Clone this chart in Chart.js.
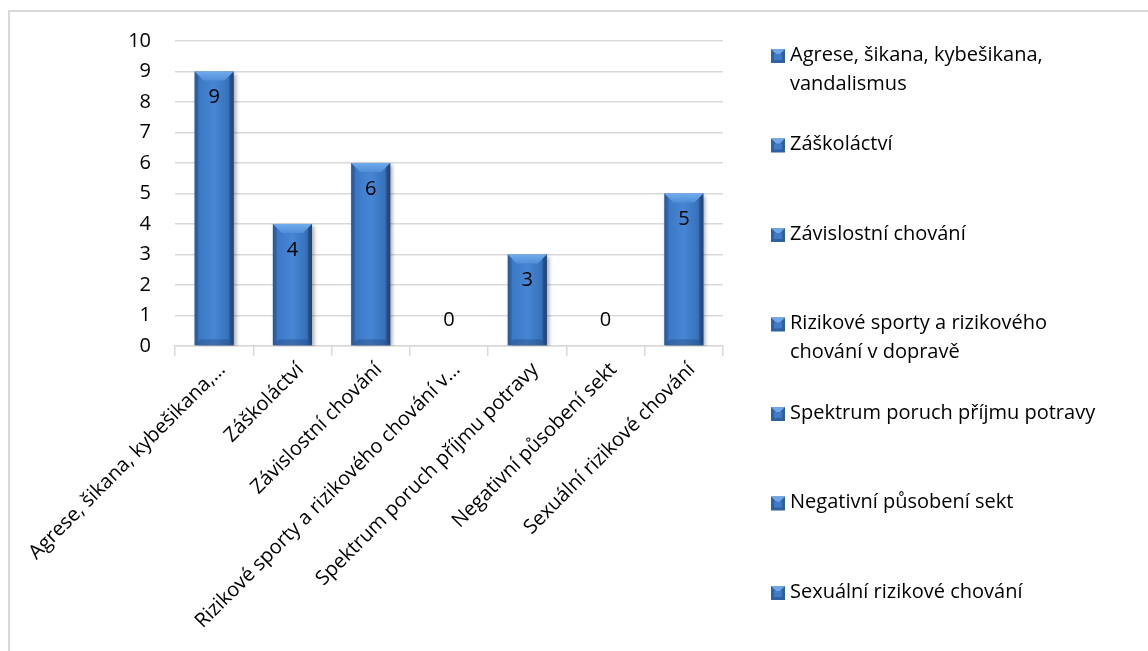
<!DOCTYPE html>
<html>
<head>
<meta charset="utf-8">
<script src="https://cdn.jsdelivr.net/npm/chart.js@4.4.1/dist/chart.umd.min.js"></script>
<style>
  body { margin: 0; background: #fff; }
  #wrap { position: relative; width: 1148px; height: 651px; }
</style>
</head>
<body>
<div id="wrap"><canvas id="chart-bars"></canvas></div>
<script>
// data
const categories = [
  "Agrese, šikana, kybešikana, vandalismus",
  "Záškoláctví",
  "Závislostní chování",
  "Rizikové sporty a rizikového chování v dopravě",
  "Spektrum poruch příjmu potravy",
  "Negativní působení sekt",
  "Sexuální rizikové chování"
];
// axis labels as Excel shortened them
const tickLabels = [
  "Agrese, šikana, kybešikana,…",
  "Záškoláctví",
  "Závislostní chování",
  "Rizikové sporty a rizikového chování v…",
  "Spektrum poruch příjmu potravy",
  "Negativní působení sekt",
  "Sexuální rizikové chování"
];
const values = [9, 4, 6, 0, 3, 0, 5];

const FONT = "'Open Sans'";
const FSIZE = 20;

function barFill(context) {
  const chart = context.chart;
  const xs = chart.scales.x;
  if (!xs || !chart.chartArea) return "#3a75c0";
  const cx = xs.getPixelForValue(context.dataIndex);
  const w = xs.width / categories.length * 0.5;
  const g = chart.ctx.createLinearGradient(cx - w / 2, 0, cx + w / 2, 0);
  g.addColorStop(0, "#2d5e9f");
  g.addColorStop(0.12, "#3c79c6");
  g.addColorStop(0.5, "#4686d4");
  g.addColorStop(0.85, "#3772bc");
  g.addColorStop(1, "#234f89");
  return g;
}

// chart frame (left + top light gray lines)
const framePlugin = {
  id: "frame",
  beforeDraw(chart) {
    const ctx = chart.ctx;
    ctx.save();
    ctx.strokeStyle = "#d9d9d9";
    ctx.lineWidth = 2;
    ctx.beginPath();
    ctx.moveTo(9, chart.height);
    ctx.lineTo(9, 11);
    ctx.lineTo(chart.width, 11);
    ctx.stroke();
    ctx.restore();
  }
};

// soft drop shadow + bevel on bars
const bevelPlugin = {
  id: "bevel",
  beforeDatasetDraw(chart) {
    const ctx = chart.ctx;
    ctx.save();
    ctx.shadowColor = "rgba(0,0,0,0.35)";
    ctx.shadowBlur = 4;
    ctx.shadowOffsetX = 2;
    ctx.shadowOffsetY = 2;
  },
  afterDatasetDraw(chart) {
    const ctx = chart.ctx;
    ctx.restore();
    const meta = chart.getDatasetMeta(0);
    meta.data.forEach((el, i) => {
      if (!values[i]) return;
      const l = el.x - el.width / 2, r = el.x + el.width / 2;
      const t = el.y, b = el.base;
      const bv = 9;
      ctx.save();
      // top bevel
      const gt = ctx.createLinearGradient(0, t, 0, t + bv);
      gt.addColorStop(0, "#70abec");
      gt.addColorStop(1, "#508ed8");
      ctx.fillStyle = gt;
      ctx.beginPath();
      ctx.moveTo(l, t); ctx.lineTo(r, t); ctx.lineTo(r - bv, t + bv); ctx.lineTo(l + bv, t + bv);
      ctx.closePath(); ctx.fill();
      // right side darker strip
      ctx.fillStyle = "rgba(20,45,90,0.35)";
      ctx.beginPath();
      ctx.moveTo(r, t); ctx.lineTo(r, b); ctx.lineTo(r - 4, b - 4); ctx.lineTo(r - 4, t + 4);
      ctx.closePath(); ctx.fill();
      // left side
      ctx.fillStyle = "rgba(30,60,110,0.22)";
      ctx.beginPath();
      ctx.moveTo(l, t); ctx.lineTo(l + 4, t + 4); ctx.lineTo(l + 4, b - 4); ctx.lineTo(l, b);
      ctx.closePath(); ctx.fill();
      // bottom bevel
      ctx.fillStyle = "rgba(25,55,100,0.3)";
      ctx.beginPath();
      ctx.moveTo(l, b); ctx.lineTo(r, b); ctx.lineTo(r - 6, b - 6); ctx.lineTo(l + 6, b - 6);
      ctx.closePath(); ctx.fill();
      ctx.restore();
    });
  }
};

// value labels, inside end of each bar
const valueLabels = {
  id: "valueLabels",
  afterDatasetsDraw(chart) {
    const ctx = chart.ctx;
    const meta = chart.getDatasetMeta(0);
    ctx.save();
    ctx.font = FSIZE + "px " + FONT;
    ctx.fillStyle = "#000";
    ctx.textAlign = "center";
    ctx.textBaseline = "middle";
    meta.data.forEach((el, i) => {
      const y = values[i] > 0 ? el.y + 26 : el.base - 26;
      ctx.fillText(String(values[i]), el.x, y);
    });
    ctx.restore();
  }
};

// legend on the right, one entry per category, wrapped like Excel
const sideLegend = {
  id: "sideLegend",
  afterDraw(chart) {
    const ctx = chart.ctx;
    const labels = chart.data.labels;
    const x0 = 771, tx = 790, maxW = 322, lineH = 29;
    const top = 55, step = 89.5;
    ctx.save();
    ctx.font = FSIZE + "px " + FONT;
    ctx.textBaseline = "middle";
    labels.forEach((lab, i) => {
      const y = top + i * step;
      const words = lab.split(" ");
      const lines = [];
      let cur = "";
      words.forEach(w => {
        const test = cur ? cur + " " + w : w;
        if (ctx.measureText(test).width > maxW && cur) { lines.push(cur); cur = w; }
        else cur = test;
      });
      lines.push(cur);
      // swatch
      const s = 14, sy = y - s / 2 + 1;
      ctx.fillStyle = "#2f60a2";
      ctx.fillRect(x0, sy, s, s);
      ctx.fillStyle = "#6ea6e6";
      ctx.beginPath();
      ctx.moveTo(x0, sy); ctx.lineTo(x0 + s, sy); ctx.lineTo(x0 + s / 2, sy + s / 2);
      ctx.closePath(); ctx.fill();
      ctx.fillStyle = "#3f7cc8";
      ctx.fillRect(x0 + 3, sy + 5, s - 6, s - 8);
      ctx.fillStyle = "#000";
      lines.forEach((ln, k) => ctx.fillText(ln, tx, y + k * lineH));
    });
    ctx.restore();
  }
};

const ctx = document.getElementById("chart-bars").getContext("2d");
new Chart(ctx, {
  type: "bar",
  data: {
    labels: categories,
    datasets: [{
      label: "Počet",
      data: values,
      backgroundColor: barFill,
      borderWidth: 0,
      barPercentage: 0.5,
      categoryPercentage: 1
    }]
  },
  options: {
    responsive: true,
    maintainAspectRatio: false,
    animation: false,
    layout: { padding: { top: 41, right: 425, left: 0, bottom: 0 } },
    plugins: {
      legend: { display: false },
      tooltip: { enabled: false }
    },
    scales: {
      y: {
        min: 0,
        max: 10,
        ticks: {
          stepSize: 1,
          padding: 24,
          color: "#000",
          font: { family: FONT, size: FSIZE }
        },
        grid: { color: "#d9d9d9", lineWidth: 1.5, drawTicks: false },
        border: { display: false },
        afterFit(scale) { scale.width = 175; }
      },
      x: {
        offset: true,
        ticks: {
          autoSkip: false,
          maxRotation: 45,
          minRotation: 45,
          padding: 2,
          labelOffset: 8,
          color: "#000",
          font: { family: FONT, size: FSIZE },
          callback: (v, i) => tickLabels[i]
        },
        grid: { display: true, offset: true, drawOnChartArea: false, tickLength: 10, color: "#d9d9d9", lineWidth: 1.5 },
        border: { display: true, color: "#d9d9d9", width: 1.5 },
        afterFit(scale) { scale.height = 305; }
      }
    }
  },
  plugins: [framePlugin, bevelPlugin, valueLabels, sideLegend]
});
</script>
</body>
</html>
